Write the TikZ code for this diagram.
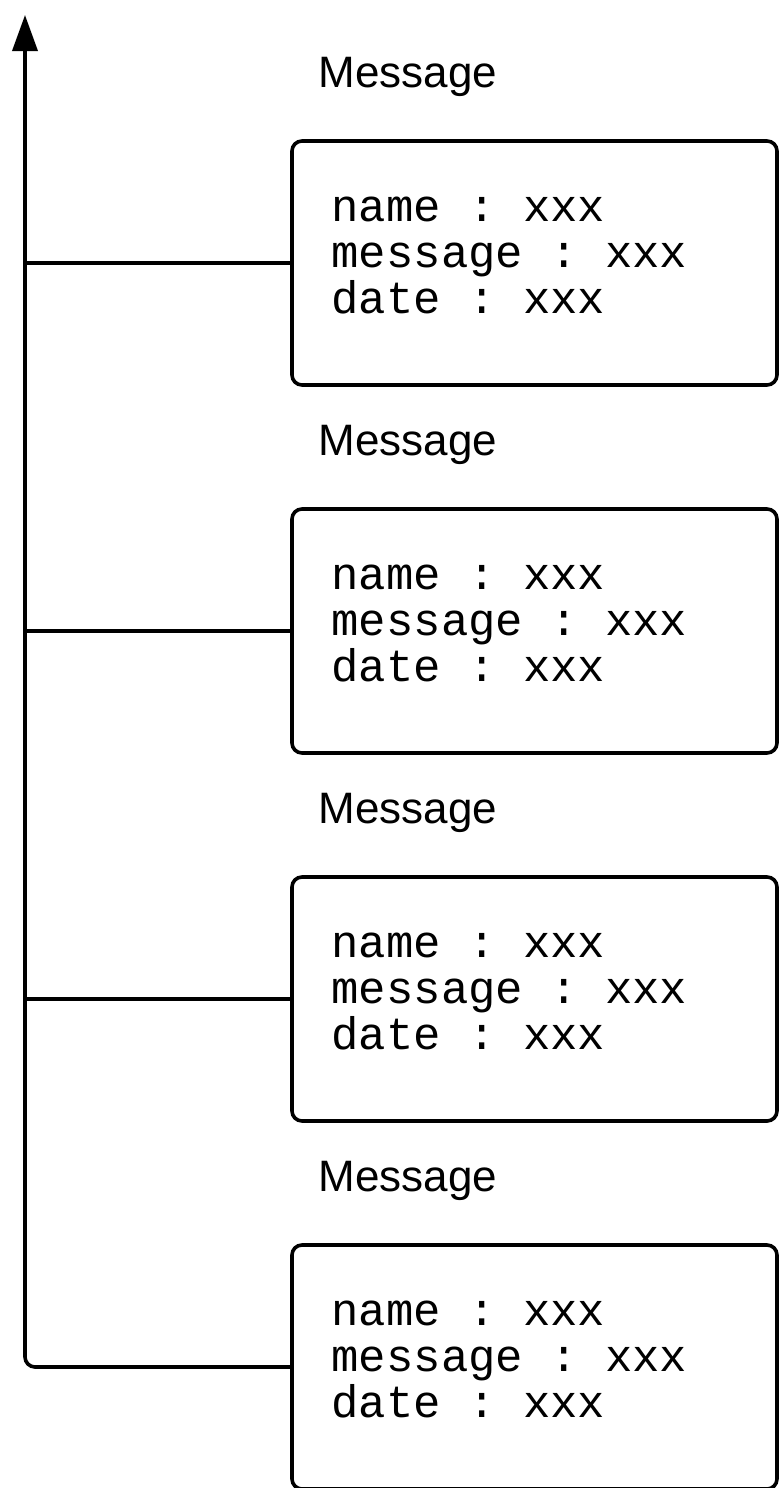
\documentclass[tikz,border=0pt]{standalone}
\usepackage{fontspec}
\setmainfont{Liberation Sans}
\setmonofont{Liberation Mono}
\usetikzlibrary{arrows.meta,positioning,calc}

\tikzset{
  msgbox/.style={draw, line width=1.8pt, rounded corners=5pt, inner sep=0pt,
                 minimum width=242.5pt, minimum height=122pt},
  fields/.style={inner sep=0pt, align=left, anchor=base west,
                 font=\ttfamily\fontsize{22.8}{22.8}\selectfont},
  title/.style={inner sep=0pt, anchor=base west,
                font=\fontsize{22}{22}\selectfont},
  link/.style={line width=1.8pt}
}

\begin{document}
\begin{tikzpicture}[x=0.5pt,y=-0.5pt]
 \useasboundingbox (0,0) rectangle (778,1488);
 % top of the time line
 \coordinate (top) at (25,15);
 % message boxes
 \foreach \i in {1,...,4}{
   \node[msgbox] (box\i) at (534.5,{263+368*(\i-1)}) {};
   \node[title] (title\i) at ([xshift=14pt,yshift=26pt]box\i.north west) {Message};
   \node[fields] (fields\i) at ([xshift=20.5pt,yshift=-25pt]box\i.west)
     {name : xxx\\message : xxx\\date : xxx};
 }
 % branches
 \foreach \i in {1,2,3}
   \draw[link] (box\i.west) -- (box\i.west -| top);
 % time line with arrow
 \draw[link, rounded corners=5pt, -{Triangle[length=18pt,width=12.5pt]}]
   (box4.west) -| (top);
\end{tikzpicture}
\end{document}
